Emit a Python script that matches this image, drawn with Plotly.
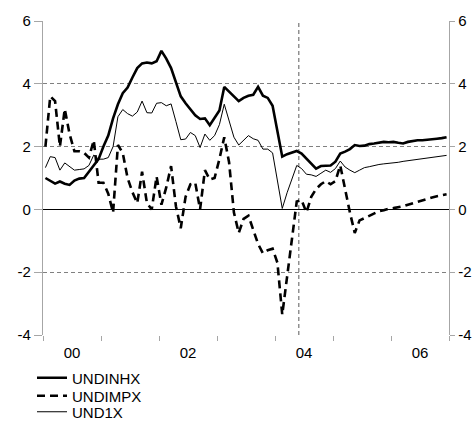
import plotly.graph_objects as go

# Monthly observations, Jan 2000 - Dec 2006 (plotted at mid-month)
start_year = 2000
undinhx = [1.0, 0.9, 0.82, 0.89, 0.82, 0.78, 0.92, 0.98, 1.0, 1.2, 1.4, 1.6,
           2.0, 2.35, 2.9, 3.35, 3.7, 3.88, 4.2, 4.5, 4.65, 4.68, 4.65, 4.72,
           5.05, 4.8, 4.5, 4.05, 3.6, 3.38, 3.2, 3.0, 2.88, 2.9, 2.68, 2.9,
           3.15, 3.9, 3.75, 3.62, 3.45, 3.55, 3.62, 3.65, 3.9, 3.62, 3.55, 3.3,
           2.45, 1.68, 1.76, 1.82, 1.86, 1.78, 1.62, 1.45, 1.3, 1.38, 1.4, 1.4,
           1.52, 1.78, 1.84, 1.92, 2.05, 2.02, 2.03, 2.08, 2.1, 2.12, 2.15, 2.14,
           2.15, 2.12, 2.1, 2.15, 2.18, 2.2, 2.2, 2.21, 2.23, 2.25, 2.27, 2.3]
undimpx = [2.0, 3.6, 3.45, 2.0, 3.2, 2.4, 1.85, 1.85, 1.8, 1.65, 2.2, 0.85,
           0.85, 0.5, -0.1, 2.05, 1.8, 1.0, 0.55, 0.2, 1.2, 0.2, 0.0, 1.05,
           0.15, 0.7, 1.38, 0.1, -0.6, 0.4, 0.8, 0.85, 0.0, 1.25, 0.95, 1.0,
           1.6, 2.3, 1.5, -0.1, -0.75, -0.3, -0.2, -0.65, -1.1, -1.4, -1.3, -1.25,
           -1.7, -3.35, -2.15, -0.85, 0.25, 0.3, -0.1, 0.4, 0.65, 0.8, 0.9, 0.8,
           0.9, 1.4, 0.6, -0.1, -0.75, -0.35, -0.28, -0.2, -0.12, -0.06, -0.03, 0.02,
           0.04, 0.06, 0.1, 0.15, 0.2, 0.25, 0.3, 0.34, 0.38, 0.42, 0.45, 0.48]
und1x = [1.33, 1.68, 1.65, 1.25, 1.48, 1.35, 1.25, 1.27, 1.29, 1.4, 1.73, 1.6,
         1.6, 1.65, 2.0, 2.95, 3.18, 3.05, 2.97, 3.1, 3.45, 3.08, 3.07, 3.38,
         3.4, 3.3, 3.36, 2.8, 2.22, 2.24, 2.45, 2.35, 1.97, 2.4, 2.2, 2.35,
         2.7, 3.35, 2.85, 2.3, 2.05, 2.2, 2.35, 2.25, 2.2, 1.92, 1.92, 1.8,
         0.9, 0.03, 0.53, 1.0, 1.4, 1.3, 1.12, 1.1, 1.05, 1.15, 1.25, 1.18,
         1.3, 1.54, 1.35, 1.25, 1.17, 1.25, 1.33, 1.36, 1.4, 1.43, 1.45, 1.46,
         1.48, 1.5, 1.53, 1.55, 1.57, 1.6, 1.62, 1.64, 1.66, 1.68, 1.7, 1.72]
year_ticks = list(range(2000, 2008))
label_pos = [2000.5, 2002.5, 2004.5, 2006.5]
label_text = ["00", "02", "04", "06"]
y_ticks = [-4, -2, 0, 2, 4, 6]
y_tick_text = ["-4", "-2", "0", "2", "4", "6"]
forecast_start = 2004.41

t = [start_year + (i + 0.5) / 12 for i in range(len(undinhx))]

GRID = "#808080"
AXIS = "#a6a6a6"
FONT = dict(family="Liberation Sans, Arial, sans-serif", size=15, color="#000000")
W, H = 474, 421

fig = go.Figure()
fig.add_trace(go.Scatter(x=t, y=undinhx, name="UNDINHX", mode="lines",
                         legend="legend",
                         line=dict(color="black", width=2.6)))
fig.add_trace(go.Scatter(x=t, y=undimpx, name="UNDIMPX", mode="lines",
                         legend="legend2",
                         line=dict(color="black", width=2.6, dash="8px,5px")))
fig.add_trace(go.Scatter(x=t, y=und1x, name="UND1X", mode="lines",
                         legend="legend3",
                         line=dict(color="black", width=1)))
# invisible trace to activate right axis and label axis
fig.add_trace(go.Scatter(x=[t[0]], y=[undinhx[0]], yaxis="y2", xaxis="x2",
                         mode="lines", showlegend=False, hoverinfo="skip",
                         line=dict(width=0)))

fig.add_shape(type="line", xref="x", yref="paper", x0=forecast_start, x1=forecast_start,
              y0=0, y1=1, line=dict(color=GRID, width=1.3, dash="4px,3px"), layer="below")


def leg(center_px):
    return dict(xref="container", yref="container", x=32 / W, y=1 - center_px / H,
                xanchor="left", yanchor="middle", bgcolor="rgba(0,0,0,0)",
                font=FONT, itemwidth=30, borderwidth=0)


fig.update_layout(
    width=W, height=H,
    margin=dict(l=43, r=25, t=21, b=86, autoexpand=False),
    paper_bgcolor="white", plot_bgcolor="white",
    font=FONT,
    showlegend=True,
    legend=leg(378), legend2=leg(396), legend3=leg(412),
    xaxis=dict(range=[2000, 2007], tickvals=year_ticks, showticklabels=False,
               ticks="outside", ticklen=5, tickcolor=AXIS, showgrid=False,
               showline=False, zeroline=False, fixedrange=True),
    xaxis2=dict(range=[2000, 2007], overlaying="x", side="bottom",
                tickvals=label_pos, ticktext=label_text, ticks="",
                ticklabelstandoff=7,
                showgrid=False, showline=False, zeroline=False, tickfont=FONT),
    yaxis=dict(range=[-4, 6], tickvals=y_ticks, ticktext=y_tick_text,
               ticks="outside", ticklen=8,
               tickcolor=AXIS, showline=True, linecolor=AXIS, linewidth=1.3,
               showgrid=True, gridcolor=GRID, gridwidth=1.3, griddash="4px,3px",
               zeroline=True, zerolinecolor="black", zerolinewidth=1.3,
               tickfont=FONT),
    yaxis2=dict(range=[-4, 6], tickvals=y_ticks, ticktext=y_tick_text,
                overlaying="y", side="right",
                anchor="x", ticks="outside", ticklen=5, tickcolor=AXIS,
                showline=True, linecolor=AXIS, linewidth=1.3, showgrid=False,
                zeroline=False, tickfont=FONT),
)

fig.write_html("out.html",
               config={"displayModeBar": False},
               post_script="document.body.style.margin='0px';"
                           "document.documentElement.style.overflow='hidden';")
